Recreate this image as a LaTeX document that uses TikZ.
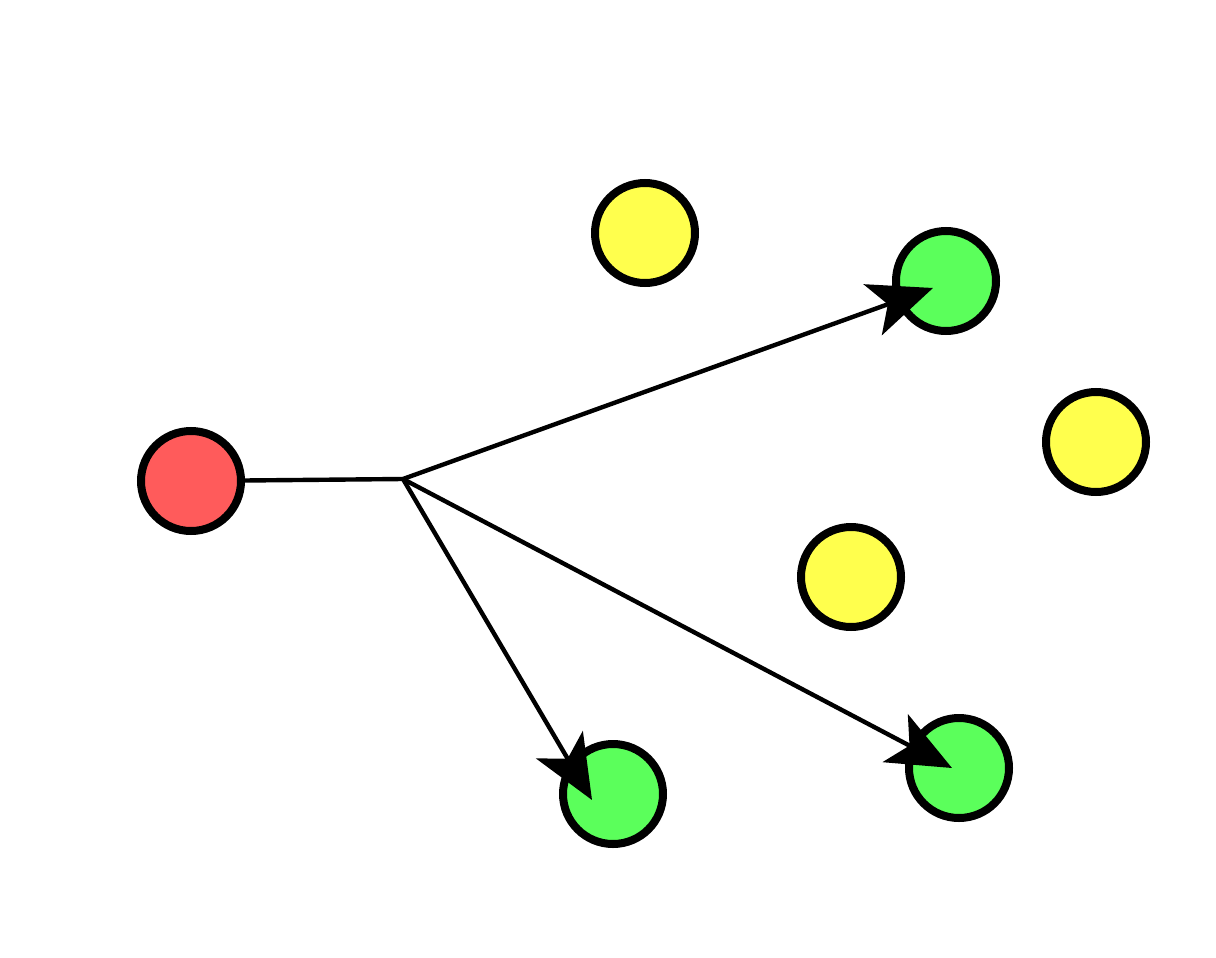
\documentclass[tikz,border=0pt]{standalone}
\usepackage{tikz}
\usetikzlibrary{arrows.meta}
\definecolor{dotred}{HTML}{FF5B5B}
\definecolor{dotyellow}{HTML}{FFFF4D}
\definecolor{dotgreen}{HTML}{5BFF5B}
\begin{document}
\begin{tikzpicture}[
  x=0.5pt,y=-0.5pt,
  dot/.style={circle,draw=black,line width=4pt,minimum size=50pt,inner sep=0pt},
  link/.style={-{Stealth[length=32pt,width=27pt,inset=8pt]},draw=black,line width=2.2pt}
]
\useasboundingbox (0,0) rectangle (1216,958);
\node[dot,fill=dotred] (src) at (191,481) {};
\node[dot,fill=dotyellow] (y1) at (645,233) {};
\node[dot,fill=dotyellow] (y2) at (1096,442) {};
\node[dot,fill=dotyellow] (y3) at (851,577) {};
\node[dot,fill=dotgreen] (g1) at (946,281) {};
\node[dot,fill=dotgreen] (g2) at (613,794) {};
\node[dot,fill=dotgreen] (g3) at (959,768) {};
\coordinate (fork) at (403,479);
\coordinate (t1) at (933,288);
\coordinate (t2) at (592,800);
\coordinate (t3) at (952,768);
\draw[line width=2.2pt] (src) -- (fork);
\draw[link] (fork) -- (t1);
\draw[link] (fork) -- (t2);
\draw[link] (fork) -- (t3);
\end{tikzpicture}
\end{document}
